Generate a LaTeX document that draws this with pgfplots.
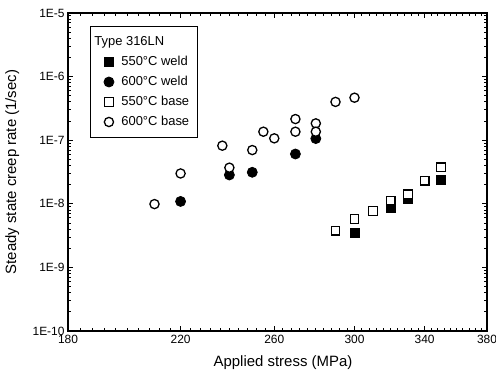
\documentclass[border=0pt]{standalone}
\usepackage{fontspec}
\setmainfont{Liberation Sans}
\usepackage{pgfplots}
\pgfplotsset{compat=1.18}
\pgfplotsset{mylegimg/.style={legend image code/.code={\path (0bp,0bp) (22bp,0bp);\draw[##1] plot coordinates {(12bp,0bp)};}}}
\begin{document}
\begin{tikzpicture}
\begin{axis}[
  scale only axis,
  width=419bp, height=318bp,
  xmode=log, ymode=log,
  xmin=180, xmax=380,
  ymin=1e-10, ymax=1e-5,
  xtick={180,220,260,300,340,380},
  xticklabels={180,220,260,300,340,380},
  minor xtick={184,188,192,196,200,204,208,212,216,224,228,232,236,240,244,248,252,256,264,268,272,276,280,284,288,292,296,304,308,312,316,320,324,328,332,336,344,348,352,356,360,364,368,372,376},
  ytick={1e-10,1e-9,1e-8,1e-7,1e-6,1e-5},
  yticklabels={1E-10,1E-9,1E-8,1E-7,1E-6,1E-5},
  minor ytick={2e-10,3e-10,4e-10,5e-10,6e-10,7e-10,8e-10,9e-10,2e-9,3e-9,4e-9,5e-9,6e-9,7e-9,8e-9,9e-9,2e-8,3e-8,4e-8,5e-8,6e-8,7e-8,8e-8,9e-8,2e-7,3e-7,4e-7,5e-7,6e-7,7e-7,8e-7,9e-7,2e-6,3e-6,4e-6,5e-6,6e-6,7e-6,8e-6,9e-6},
  /pgf/number format/assume math mode=true,
  tick align=inside,
  major tick length=5bp, minor tick length=3bp,
  every tick/.style={black, line width=0.9bp},
  axis line style={line width=1.5bp},
  xticklabel style={font=\fontsize{12}{14}\selectfont, yshift=-1bp},
  yticklabel style={font=\fontsize{12}{14}\selectfont},
  xlabel={Applied stress (MPa)},
  ylabel={Steady state creep rate (1/sec)},
  every axis x label/.style={at={(axis description cs:0.513,-0.1)}, anchor=center, font=\fontsize{15}{17}\selectfont},
  every axis y label/.style={at={(axis description cs:-0.133,0.5)}, anchor=center, rotate=90, font=\fontsize{15}{17}\selectfont},
  legend style={
    at={(rel axis cs:0.0525,0.959)}, anchor=north west,
    draw=black, line width=0.9bp,
    inner xsep=6bp, inner ysep=7.5bp,
    row sep=4bp,
    nodes={inner sep=2bp, text height=9.5bp, text depth=2.5bp, font=\fontsize{13}{15}\selectfont},
  },
  legend cell align=left,
]
\addlegendimage{legend image code/.code={\path (0bp,0bp) (22bp,0bp); \node[overlay,anchor=west,inner sep=0pt,font=\fontsize{13}{15}\selectfont] at (-3bp,0bp) {Type 316LN};}}
\addlegendentry{}
% 550C weld
\addplot[only marks, mylegimg, mark=square*, mark size=4.6bp, mark options={fill=black, draw=black, line width=0.8bp}] coordinates {
(300,3.44e-9) (320,8.8e-9) (330,1.19e-8) (350,2.37e-8)
};
\addlegendentry{550°C weld}
% 600C weld
\addplot[only marks, mylegimg, mark=*, mark size=5bp, mark options={fill=black, draw=black, line width=0.8bp}] coordinates {
(220,1.09e-8) (240,2.84e-8) (250,3.13e-8) (270,6.07e-8) (280,1.06e-7)
};
\addlegendentry{600°C weld}
% 550C base
\addplot[only marks, mylegimg, mark=square*, mark size=4.3bp, mark options={fill=white, draw=black, line width=1.3bp}] coordinates {
(290,3.78e-9) (300,5.77e-9) (310,7.7e-9) (320,1.12e-8) (330,1.41e-8) (340,2.31e-8) (350,3.75e-8)
};
\addlegendentry{550°C base}
% 600C base
\addplot[only marks, mylegimg, mark=*, mark size=4.6bp, mark options={fill=white, draw=black, line width=1.3bp}] coordinates {
(210,9.9e-9) (220,3.0e-8) (237,8.2e-8) (240,3.7e-8) (250,7.0e-8) (255,1.36e-7) (260,1.07e-7) (270,2.15e-7) (270,1.36e-7) (280,1.84e-7) (280,1.36e-7) (290,4.0e-7) (300,4.66e-7)
};
\addlegendentry{600°C base}
\coordinate (bl) at (rel axis cs:0,0);
\coordinate (tr) at (rel axis cs:1,1);
\end{axis}
\pgfresetboundingbox
\path ([xshift=-68bp,yshift=-50bp]bl) rectangle ([xshift=9bp,yshift=13bp]tr);
\end{tikzpicture}
\end{document}
